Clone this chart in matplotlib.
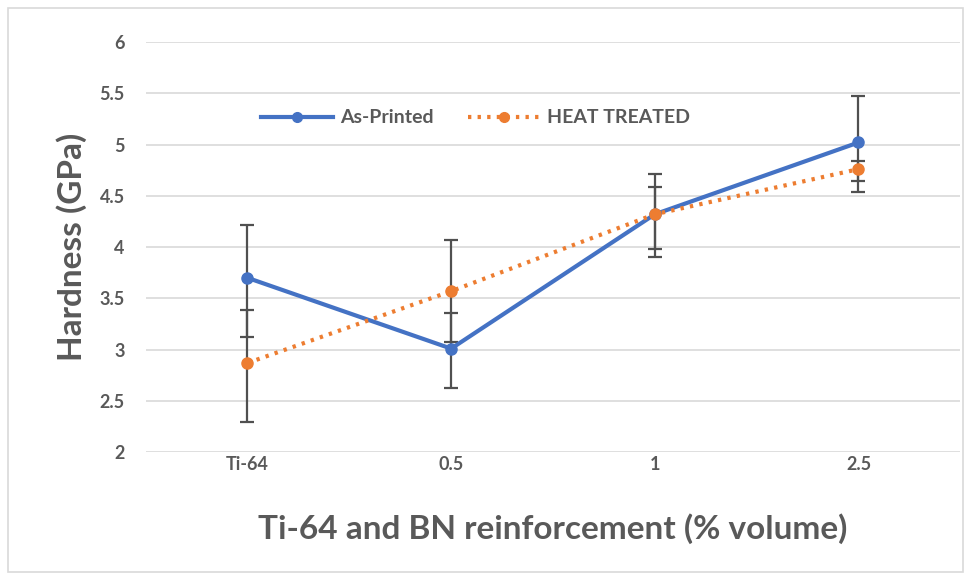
import numpy as np
import matplotlib
matplotlib.use('Agg')
import matplotlib.pyplot as plt
from matplotlib.patches import Rectangle
from matplotlib.lines import Line2D

categories = ['Ti-64', '0.5', '1', '2.5']

as_printed = [3.70, 3.01, 4.32, 5.02]
as_printed_lo = [0.58, 0.38, 0.42, 0.48]
as_printed_hi = [0.52, 0.35, 0.39, 0.45]

heat_treated = [2.87, 3.57, 4.32, 4.76]
heat_treated_lo = [0.58, 0.50, 0.34, 0.12]
heat_treated_hi = [0.52, 0.50, 0.27, 0.08]

blue = '#4472C4'
orange = '#ED7D31'
grey_txt = '#595959'
err_col = '#505050'
dots = (0, (0.8, 1.5))

plt.rcParams['font.family'] = ['Lato', 'DejaVu Sans']

fig = plt.figure(figsize=(9.71, 5.79), dpi=100)
ax = fig.add_axes([0.150, 0.219, 0.839, 0.7085])

x = np.arange(len(categories))

ax.errorbar(x, as_printed, yerr=[as_printed_lo, as_printed_hi], color=blue,
            lw=3, marker='o', ms=8, ecolor=err_col, elinewidth=1.6,
            capsize=5, capthick=1.6, zorder=3)
ax.errorbar(x, heat_treated, yerr=[heat_treated_lo, heat_treated_hi], color=orange,
            lw=3, ls=dots, dash_capstyle='butt', marker='o', ms=8,
            ecolor=err_col, elinewidth=1.6, capsize=5, capthick=1.6, zorder=3)

ax.set_xlim(-0.5, len(categories) - 0.5)
ax.set_ylim(2, 6)
ax.set_yticks(np.arange(2, 6.01, 0.5))
ax.set_yticklabels(['2', '2.5', '3', '3.5', '4', '4.5', '5', '5.5', '6'])
ax.set_xticks(x)
ax.set_xticklabels(categories)
ax.grid(axis='y', color='#d9d9d9', lw=1.2)
ax.set_axisbelow(True)
for s in ax.spines.values():
    s.set_visible(False)
ax.tick_params(length=0, labelsize=13, labelcolor=grey_txt)
ax.tick_params(axis='x', pad=3)
ax.tick_params(axis='y', pad=15)
for lbl in ax.get_xticklabels() + ax.get_yticklabels():
    lbl.set_fontweight('bold')

ax.set_ylabel('Hardness (GPa)', fontsize=24, fontweight='bold', color=grey_txt, labelpad=9)
ax.set_xlabel('Ti-64 and BN reinforcement (% volume)', fontsize=24, fontweight='bold',
              color=grey_txt, labelpad=29)

handles = [Line2D([], [], color=blue, lw=3, marker='o', ms=7),
           Line2D([], [], color=orange, lw=3, ls=dots, marker='o', ms=7)]
leg = ax.legend(handles, ['As-Printed', 'HEAT TREATED'], loc='center',
                bbox_to_anchor=(0.405, 0.815), ncol=2, frameon=False,
                fontsize=14, handlelength=3.7, handletextpad=0.35, columnspacing=1.8)
for t in leg.get_texts():
    t.set_color(grey_txt)
    t.set_fontweight('bold')

fig.patches.append(Rectangle((0.008, 0.012), 0.984, 0.975, transform=fig.transFigure,
                             fill=False, edgecolor='#d9d9d9', lw=1.2))

fig.savefig('out.png', dpi=100)
